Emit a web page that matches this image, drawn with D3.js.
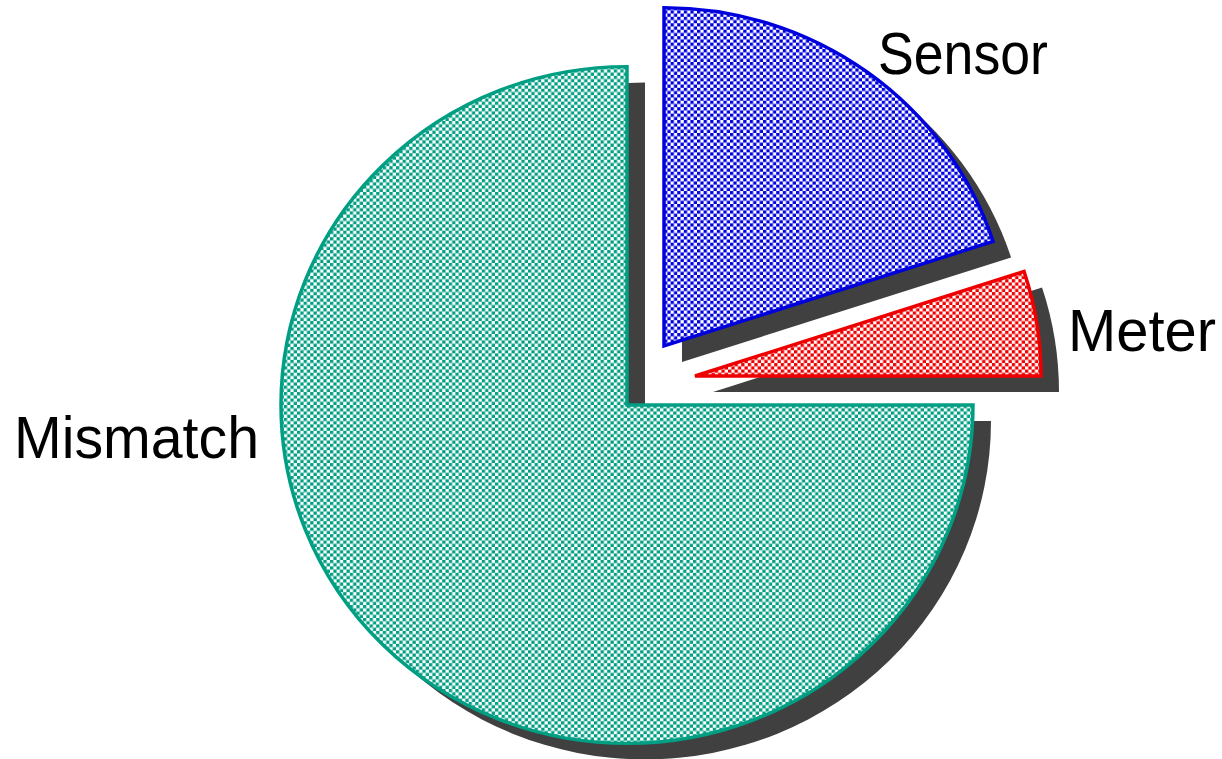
<!DOCTYPE html>
<meta charset="utf-8">
<style>
body { margin: 0; background: #fff; }
.labels text {
	font-family: "Liberation Sans", Arial, sans-serif;
	font-size: 59px;
	fill: #000;
}
</style>
<svg width="1222" height="759"></svg>
<script src="https://d3js.org/d3.v7.min.js"></script>
<script>

// data
var categories = ["Mismatch", "Sensor", "Meter"]
var values = [75, 20, 5]
var colours = ["#009e82", "#0000dd", "#ee0000"]

// layout: pie centre, exploded offsets, label spots
var cx = 627, cy = 405
var offsets = [[0, 0], [37, -59], [68, -29]]
var labelPos = [[14, 458, 245], [878, 74, 170], [1068, 351, 148]]
var shadow = [18, 16]

var svg = d3.select('svg')
var defs = svg.append('defs')

// checker patterns
colours.forEach(function (c, i) {
	var p = defs.append('pattern')
		.attr('id', 'chk' + i)
		.attr('patternUnits', 'userSpaceOnUse')
		.attr('width', 6.6)
		.attr('height', 6.6)
	p.append('rect').attr('width', 6.6).attr('height', 6.6).attr('fill', '#fff')
	p.append('rect').attr('width', 3.3).attr('height', 3.3).attr('fill', c)
	p.append('rect').attr('x', 3.3).attr('y', 3.3).attr('width', 3.3).attr('height', 3.3).attr('fill', c)
})

// mismatch starts at 12 o'clock and runs counterclockwise, rest go clockwise after it
var pie = d3.pie().sort(null).startAngle(Math.PI / 2).endAngle(Math.PI / 2 + 2 * Math.PI)
var arcs = pie(values)

var arc = d3.arc().innerRadius(0).outerRadius(346)

var g = svg.append('g')

// shadows first
var shadowGroup = g.append('g').attr('class', 'shadows')
shadowGroup.selectAll('path')
	.data(arcs)
	.enter().append('path')
	.attr('transform', function (d, i) {
		return 'translate(' + (cx + offsets[i][0] + shadow[0]) + ',' + (cy + offsets[i][1] + shadow[1]) + ') scale(1,0.978)'
	})
	.attr('d', arc)
	.attr('fill', '#404040')

var sliceGroup = g.append('g').attr('class', 'slices')
sliceGroup.selectAll('path')
	.data(arcs)
	.enter().append('path')
	.attr('transform', function (d, i) {
		return 'translate(' + (cx + offsets[i][0]) + ',' + (cy + offsets[i][1]) + ') scale(1,0.978)'
	})
	.attr('d', arc)
	.attr('fill', function (d, i) { return 'url(#chk' + i + ')' })
	.attr('stroke', function (d, i) { return colours[i] })
	.attr('stroke-width', 3.5)
	.attr('stroke-linejoin', 'miter')

// labels
svg.append('g').attr('class', 'labels')
	.selectAll('text')
	.data(categories)
	.enter().append('text')
	.attr('x', function (d, i) { return labelPos[i][0] })
	.attr('y', function (d, i) { return labelPos[i][1] })
	.attr('textLength', function (d, i) { return labelPos[i][2] })
	.attr('lengthAdjust', 'spacingAndGlyphs')
	.text(function (d) { return d })

</script>
